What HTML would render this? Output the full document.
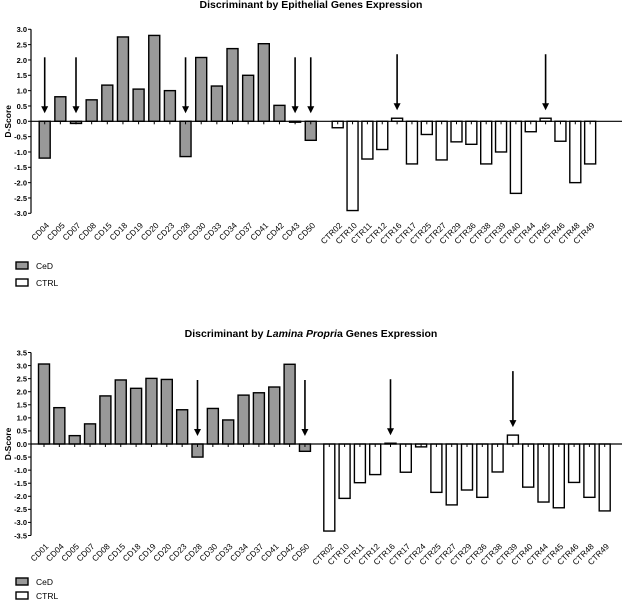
<!DOCTYPE html>
<html><head><meta charset="utf-8"><style>
html,body{margin:0;padding:0;background:#fff;}
svg{display:block;font-family:"Liberation Sans",Arial,sans-serif;}
</style></head><body>
<svg id="fig" width="622" height="601" viewBox="0 0 622 601"></svg>
<script>
// Chart 1: Epithelial
const cat1A = ["CD04","CD05","CD07","CD08","CD15","CD18","CD19","CD20","CD23","CD28","CD30","CD33","CD34","CD37","CD41","CD42","CD43","CD50"];
const val1A = [-1.2,0.8,-0.07,0.7,1.18,2.75,1.05,2.8,1.0,-1.15,2.08,1.15,2.37,1.5,2.53,0.52,-0.03,-0.62];
const cat1B = ["CTR02","CTR10","CTR11","CTR12","CTR16","CTR17","CTR25","CTR27","CTR29","CTR36","CTR38","CTR39","CTR40","CTR44","CTR45","CTR46","CTR48","CTR49"];
const val1B = [-0.21,-2.91,-1.23,-0.92,0.1,-1.39,-0.43,-1.26,-0.67,-0.75,-1.39,-1.0,-2.35,-0.34,0.1,-0.65,-2.0,-1.39];
const ticks1 = ["3.0","2.5","2.0","1.5","1.0","0.5","0.0","-0.5","-1.0","-1.5","-2.0","-2.5","-3.0"];
const arrows1 = ["CD04","CD07","CD28","CD43","CD50","CTR16","CTR45"];
// Chart 2: Lamina Propria
const cat2A = ["CD01","CD04","CD05","CD07","CD08","CD15","CD18","CD19","CD20","CD23","CD28","CD30","CD33","CD34","CD37","CD41","CD42","CD50"];
const val2A = [3.06,1.39,0.32,0.77,1.84,2.45,2.13,2.51,2.47,1.31,-0.5,1.36,0.92,1.87,1.96,2.18,3.05,-0.28];
const cat2B = ["CTR02","CTR10","CTR11","CTR12","CTR16","CTR17","CTR24","CTR25","CTR27","CTR29","CTR36","CTR38","CTR39","CTR40","CTR44","CTR45","CTR46","CTR48","CTR49"];
const val2B = [-3.33,-2.08,-1.48,-1.17,0.03,-1.08,-0.11,-1.85,-2.33,-1.76,-2.04,-1.07,0.34,-1.65,-2.22,-2.44,-1.47,-2.04,-2.56];
const ticks2 = ["3.5","3.0","2.5","2.0","1.5","1.0","0.5","0.0","-0.5","-1.0","-1.5","-2.0","-2.5","-3.0","-3.5"];
const arrows2 = ["CD28","CD50","CTR16","CTR39"];

const NS="http://www.w3.org/2000/svg";
const svg=document.getElementById('fig');
function mk(tag,attrs,parent,text){const e=document.createElementNS(NS,tag);for(const k in attrs)e.setAttribute(k,attrs[k]);if(text!==undefined)e.textContent=text;(parent||svg).appendChild(e);return e;}

function chart(cfg){
  const g=mk('g',{});
  
  
  const y=v=>cfg.y0-v*cfg.scale;
  const xs={};
  cfg.catA.forEach((c,i)=>xs[c]=cfg.ax+i*cfg.as);
  cfg.catB.forEach((c,i)=>xs[c]=cfg.bx+i*cfg.bs);
  const t=mk('text',{x:311,y:cfg.titleY,'text-anchor':'middle','font-size':'10.5','font-weight':'bold'},g);
  
  
  cfg.title(t);
  const ymax=parseFloat(cfg.ticks[0]), ymin=parseFloat(cfg.ticks[cfg.ticks.length-1]);
  const ax=mk('line',{x1:31,x2:31,y1:y(ymax),y2:y(ymin),stroke:'#000','stroke-width':1.2},g);
  
  
  cfg.ticks.forEach(s=>{const v=parseFloat(s);
    mk('line',{x1:28,x2:31,y1:y(v),y2:y(v),stroke:'#000','stroke-width':1},g);
    const tl=mk('text',{x:27,y:y(v)+2.8,'text-anchor':'end','font-size':'7.5','font-weight':'bold'},g,s);
    
    
  });
  const yt=mk('text',{x:0,y:0,transform:`translate(11,${cfg.y0}) rotate(-90)`,'text-anchor':'middle','font-size':'8.5','font-weight':'bold'},g,'D-Score');
  
  
  const draw=(cats,vals,fill,nm)=>cats.forEach((c,i)=>{const v=vals[i];const x=xs[c];
    const r=mk('rect',{x:x-5.5,y:Math.min(y(v),cfg.y0),width:11,height:Math.abs(y(v)-cfg.y0),fill:fill,stroke:'#000','stroke-width':1.4},g);
    
    
    mk('line',{x1:x,x2:x,y1:cfg.y0,y2:cfg.y0+3,stroke:'#000','stroke-width':1},g);
    const lb=mk('text',{x:0,y:0,transform:`translate(${x+5},${cfg.labY}) rotate(-45)`,'text-anchor':'end','font-size':'8.3'},g,c);
    
    
  });
  draw(cfg.catA,cfg.valA,'#999','ced');
  draw(cfg.catB,cfg.valB,'#fff','ctrl');
  const zl=mk('line',{x1:31,x2:622,y1:cfg.y0,y2:cfg.y0,stroke:'#000','stroke-width':1.2},g);
  
  
  cfg.arrows.forEach(c=>{
    const idxA=cfg.catA.indexOf(c), idxB=cfg.catB.indexOf(c);
    const v=idxA>=0?cfg.valA[idxA]:cfg.valB[idxB];
    const tip=Math.min(cfg.y0,y(v))-8;
    const x=xs[c];
    const a=mk('g',{},g);
    
    
    mk('line',{x1:x,x2:x,y1:tip-56,y2:tip-6,stroke:'#000','stroke-width':1.6},a);
    mk('polygon',{points:`${x-3.5},${tip-7} ${x+3.5},${tip-7} ${x},${tip}`,fill:'#000'},a);
  });
  [['CeD','#999'],['CTRL','#fff']].forEach((l,i)=>{
    const lg=mk('g',{},g);
    
    
    const ly=cfg.legY+i*cfg.legGap;
    mk('rect',{x:16,y:ly-4,width:12,height:7,fill:l[1],stroke:'#000','stroke-width':1.4},lg);
    mk('text',{x:36,y:ly+3,'font-size':'8.5'},lg,l[0]);
  });
}
chart({name:'epithelial-chart',catA:cat1A,valA:val1A,catB:cat1B,valB:val1B,ticks:ticks1,arrows:arrows1,
  y0:121.3,scale:30.67,ax:44.7,as:15.65,bx:337.7,bs:14.85,labY:226,titleY:8,legY:266,legGap:17,
  title:t=>{t.textContent='Discriminant by Epithelial Genes Expression';}});
chart({name:'lamina-propria-chart',catA:cat2A,valA:val2A,catB:cat2B,valB:val2B,ticks:ticks2,arrows:arrows2,
  y0:444,scale:26.14,ax:44,as:15.35,bx:329.3,bs:15.3,labY:547,titleY:337,legY:582,legGap:14,
  title:t=>{t.appendChild(document.createTextNode('Discriminant by '));const s=document.createElementNS(NS,'tspan');s.setAttribute('font-style','italic');s.textContent='Lamina Propri';t.appendChild(s);t.appendChild(document.createTextNode('a Genes Expression'));}});
</script>
</body></html>
